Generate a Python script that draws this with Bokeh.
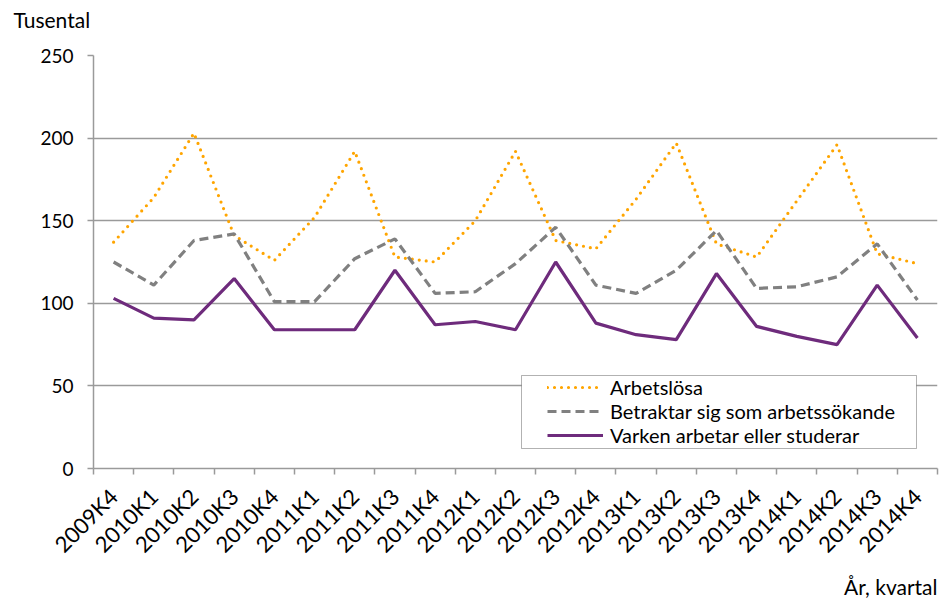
import math
from bokeh.plotting import figure
from bokeh.models import FixedTicker, Legend, LegendItem, Title, BoxAnnotation
from bokeh.embed import file_html
from bokeh.resources import INLINE

quarters = ["2009K4", "2010K1", "2010K2", "2010K3", "2010K4",
            "2011K1", "2011K2", "2011K3", "2011K4",
            "2012K1", "2012K2", "2012K3", "2012K4",
            "2013K1", "2013K2", "2013K3", "2013K4",
            "2014K1", "2014K2", "2014K3", "2014K4"]
arbetslosa = [137, 164, 203, 141, 126, 152, 192, 128, 125, 150, 192,
              138, 133, 163, 197, 136, 128, 162, 196, 130, 124]
betraktar = [125, 111, 138, 142, 101, 101, 127, 139, 106, 107, 124,
             146, 111, 106, 120, 144, 109, 110, 116, 136, 102]
varken = [103, 91, 90, 115, 84, 84, 84, 120, 87, 89, 84,
          125, 88, 81, 78, 118, 86, 80, 75, 111, 79]
y_ticks = [0, 50, 100, 150, 200, 250]

FONT = "Lato"
GRID = "#9A9A9A"
xs = list(range(len(quarters)))

p = figure(width=944, height=599, x_range=(-0.5, len(quarters) - 0.5),
           y_range=(0, 250), output_backend="svg", toolbar_location=None,
           min_border_left=93, min_border_right=7, min_border_top=55,
           min_border_bottom=131)
p.outline_line_color = None
p.background_fill_color = "white"

# lines
r1 = p.line(xs, arbetslosa, line_color="#FFA500", line_width=3.2,
            line_dash="0 7", line_cap="round")
r2 = p.line(xs, betraktar, line_color="#808080", line_width=3.2,
            line_dash="9 5")
r3 = p.line(xs, varken, line_color="#6E2B7C", line_width=3.2)

# axes
xa = p.xaxis[0]
xa.ticker = FixedTicker(ticks=xs, minor_ticks=[i - 0.5 for i in range(len(quarters) + 1)])
xa.major_label_overrides = {i: q for i, q in enumerate(quarters)}
xa.major_label_orientation = math.pi / 4
xa.major_tick_out = 0
xa.major_tick_in = 0
xa.minor_tick_out = 6
xa.minor_tick_in = 0
xa.minor_tick_line_color = GRID
xa.minor_tick_line_width = 1.5
xa.axis_line_color = GRID
xa.axis_line_width = 1.5
xa.major_label_text_font = FONT
xa.major_label_text_font_size = "22px"
xa.major_label_text_color = "black"
xa.major_label_standoff = 18

ya = p.yaxis[0]
ya.ticker = FixedTicker(ticks=y_ticks)
ya.major_tick_out = 6
ya.major_tick_in = 0
ya.minor_tick_out = 0
ya.minor_tick_in = 0
ya.major_tick_line_color = GRID
ya.major_tick_line_width = 1.5
ya.axis_line_color = GRID
ya.axis_line_width = 1.5
ya.major_label_text_font = FONT
ya.major_label_text_font_size = "19px"
ya.major_label_text_color = "black"
ya.major_label_standoff = 14

p.xgrid.grid_line_color = None
p.ygrid.ticker = FixedTicker(ticks=y_ticks[1:])
p.ygrid.grid_line_color = GRID
p.ygrid.grid_line_width = 1.5

# titles
p.title.text = "Tusental\n "
p.title.align = "left"
p.title.vertical_align = "top"
p.title.offset = -80
p.title.standoff = 0
p.title.text_line_height = 0.88
p.title.text_font = FONT
p.title.text_font_size = "21px"
p.title.text_font_style = "normal"
p.title.text_color = "black"

p.add_layout(Title(text="År, kvartal", align="right", vertical_align="bottom",
                   standoff=2, text_font=FONT, text_font_size="21px",
                   text_font_style="normal", text_color="black"), "below")

# legend frame
box = BoxAnnotation(left=428, right=823, bottom=20, top=93,
                    left_units="screen", right_units="screen",
                    top_units="screen", bottom_units="screen",
                    fill_color="white", fill_alpha=1.0,
                    line_color="black", line_width=1)
p.add_layout(box)

legend = Legend(items=[LegendItem(label="Arbetslösa", renderers=[r1]),
                       LegendItem(label="Betraktar sig som arbetssökande", renderers=[r2]),
                       LegendItem(label="Varken arbetar eller studerar", renderers=[r3])],
                location=(454, 21), padding=0, spacing=0, margin=0,
                glyph_width=56, glyph_height=24, label_height=24,
                label_standoff=7, label_text_font=FONT,
                label_text_font_size="20px", label_text_color="black",
                border_line_color=None, background_fill_alpha=0)
p.add_layout(legend, "center")

open("out.html", "w").write(file_html(p, INLINE))
